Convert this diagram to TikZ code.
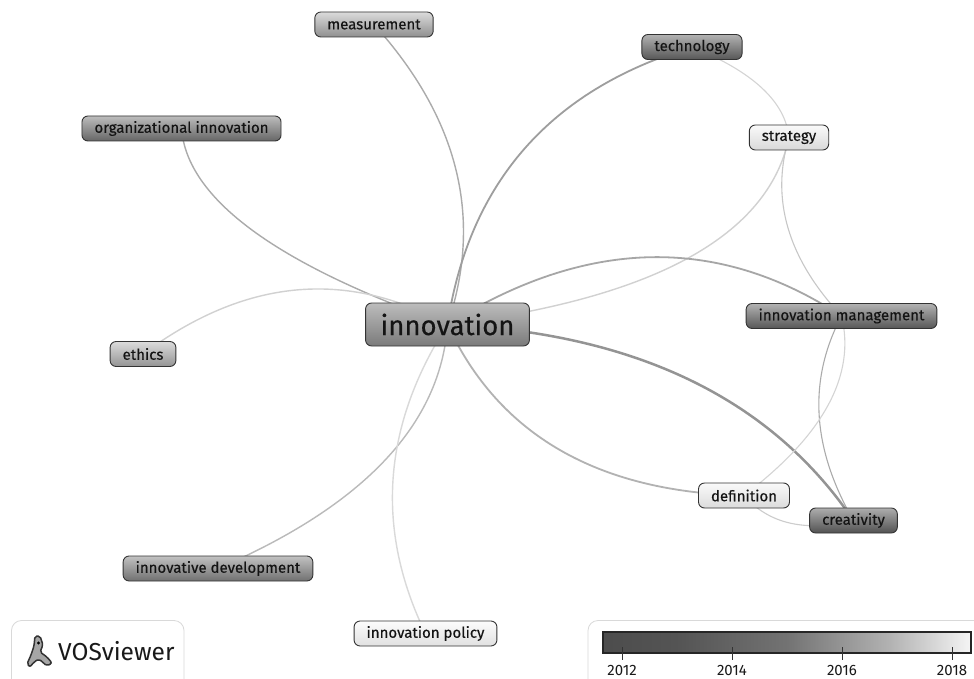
\documentclass[tikz,border=0pt]{standalone}
\usepackage{fontspec}
\setmainfont{Fira Sans}
\newfontfamily\kwfont{Fira Sans}[FakeBold=0.35]
\usetikzlibrary{backgrounds}
\pgfdeclarehorizontalshading{yearbar}{100bp}{color(0bp)=(black!70); color(25bp)=(black!70); color(35bp)=(black!67); color(50bp)=(black!55); color(64bp)=(black!30); color(75bp)=(black!4); color(100bp)=(black!4)}
\begin{document}
\begin{tikzpicture}[x=1pt,y=-1pt,
  kw/.style={draw=black!80, line width=0.9pt, rounded corners=6pt, minimum height=25pt,
    inner xsep=12.5pt, inner ysep=0pt, font=\kwfont\fontsize{15}{17}\selectfont, text=black!92},
  shd/.style 2 args={top color=black!#1, bottom color=black!#2},
  lnk/.style={line cap=round},
  panel/.style={draw=black!15, line width=0.8pt, rounded corners=10pt},
  yearlbl/.style={font=\fontsize{15}{17}\selectfont, text=black!90, inner sep=0pt}
]
\useasboundingbox (0,0) rectangle (974,679);
\clip (0,0) rectangle (974,679);

% nodes
\node[kw, shd={26}{52}, minimum height=43pt, inner xsep=15pt, font=\kwfont\fontsize{27.5}{31}\selectfont] (innov) at (447.5,324.5) {innovation};
\node[kw, shd={14}{44}] (meas) at (374,24.5) {measurement};
\node[kw, shd={30}{66}] (tech) at (692,47) {technology};
\node[kw, shd={26}{60}] (org) at (181.5,128.5) {organizational innovation};
\node[kw, shd={2}{15}] (strat) at (789,137.5) {strategy};
\node[kw, shd={30}{66}] (mgmt) at (841.5,316) {innovation management};
\node[kw, shd={14}{42}] (ethics) at (143,354) {ethics};
\node[kw, shd={2}{14}] (defn) at (744,495.5) {definition};
\node[kw, shd={32}{68}] (creat) at (853.5,520.5) {creativity};
\node[kw, shd={24}{56}] (idev) at (218,568.5) {innovative development};
\node[kw, shd={1}{12}] (ipol) at (425.5,633.5) {innovation policy};

% links
\begin{pgfonlayer}{background}
\fill[white] (0,0) rectangle (974,679);
\draw[lnk, draw=black!33, line width=1.4pt] (innov.center) .. controls (483.3,218.7) and (459,118.7) .. (meas.center);
\draw[lnk, draw=black!38, line width=1.8pt] (innov.center) .. controls (469.3,181.7) and (551,89.3) .. (tech.center);
\draw[lnk, draw=black!33, line width=1.4pt] (innov.center) .. controls (275.7,264) and (187,198.7) .. (org.center);
\draw[lnk, draw=black!18, line width=1.4pt] (innov.center) .. controls (345.7,268.7) and (244.3,278.7) .. (ethics.center);
\draw[lnk, draw=black!18, line width=1.4pt] (innov.center) .. controls (654.3,298.3) and (768.3,236) .. (strat.center);
\draw[lnk, draw=black!35, line width=1.8pt] (innov.center) .. controls (586.3,237.7) and (717.7,234.7) .. (mgmt.center);
\draw[lnk, draw=black!42, line width=2.5pt] (innov.center) .. controls (635.7,333.3) and (771,398.7) .. (creat.center);
\draw[lnk, draw=black!30, line width=1.8pt] (innov.center) .. controls (498.7,435) and (597.7,492) .. (defn.center);
\draw[lnk, draw=black!27, line width=1.4pt] (innov.center) .. controls (440.7,424) and (364.3,505.3) .. (idev.center);
\draw[lnk, draw=black!15, line width=1.4pt] (innov.center) .. controls (382.3,426.3) and (375,529.3) .. (ipol.center);
\draw[lnk, draw=black!17, line width=1.1pt] (tech.center) .. controls (753,71.7) and (785.3,101.7) .. (strat.center);
\draw[lnk, draw=black!22, line width=1.1pt] (strat.center) .. controls (770.3,199) and (787.7,258.3) .. (mgmt.center);
\draw[lnk, draw=black!33, line width=1.1pt] (mgmt.center) .. controls (807.7,380) and (811.7,448.3) .. (creat.center);
\draw[lnk, draw=black!17, line width=1.1pt] (mgmt.center) .. controls (856,375) and (823.7,435) .. (defn.center);
\draw[lnk, draw=black!20, line width=1.1pt] (defn.center) .. controls (769,524) and (805.3,532.3) .. (creat.center);
\end{pgfonlayer}

% VOSviewer panel
\draw[panel] (11.5,620.5) rectangle (184,700);
\draw[line width=1.5pt, draw=black!80, fill=black!35, rounded corners=2pt]
  (35,636) -- (40,636) -- (43,645) -- (40,652) -- (47,657) -- (52,663) -- (47,666)
  -- (39,659) -- (34,662) -- (30,667) -- (27,664) -- (31,655) -- (34,646) -- cycle;
\fill[black] (38.5,643) circle (1.6pt);
\node[font=\fontsize{24.5}{28}\selectfont, text=black!90, anchor=west, inner sep=0pt] (vos) at (58,651) {VOSviewer};

% year legend
\draw[panel] (588,620.5) rectangle (1000,700);
\node[draw=black!85, line width=1.3pt, minimum width=368pt, minimum height=21pt, inner sep=0pt, shading=yearbar] (bar) at (787,642.5) {};
\foreach \x/\yr in {622/2012, 732/2014, 842/2016, 952/2018}{
  \draw[black!80, line width=1pt] (\x,647) -- (\x,660);
  \node[yearlbl] (y\yr) at (\x,670) {\yr};
}
\end{tikzpicture}
\end{document}
